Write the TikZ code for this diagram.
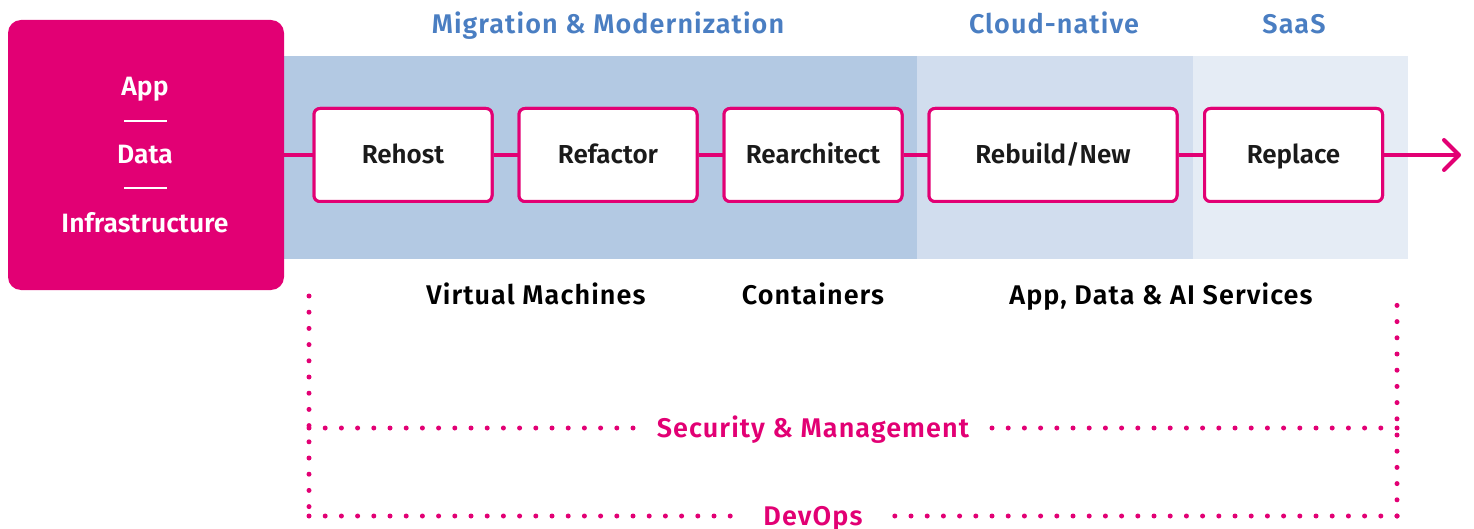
\documentclass[tikz,border=0pt]{standalone}
\usepackage{fontspec}
\setmainfont{Fira Sans}[BoldFont={Fira Sans SemiBold}]
\usetikzlibrary{arrows.meta}
\definecolor{mag}{HTML}{E20074}
\definecolor{bandA}{HTML}{B3C9E3}
\definecolor{bandB}{HTML}{D1DDEE}
\definecolor{bandC}{HTML}{E5ECF5}
\definecolor{bluetxt}{HTML}{4A7EC2}
\definecolor{boxtxt}{HTML}{1A1A1A}
\begin{document}
\begin{tikzpicture}[x=1pt,y=-1pt,
  stepbox/.style={draw=mag,line width=3pt,fill=white,rounded corners=6pt,
    minimum width=178pt,minimum height=93pt,inner sep=0pt,text=boxtxt,
    text height=18pt,text depth=0pt,
    font=\fontsize{26}{31}\selectfont\bfseries},
  conn/.style={draw=mag,line width=4pt},
  lbl/.style={inner ysep=0pt,text height=18.5pt,text depth=0pt,
    font=\fontsize{27}{32}\selectfont\bfseries\addfontfeature{LetterSpace=4}},
  toplabel/.style={lbl,text=bluetxt},
  botlabel/.style={lbl,text=black},
  maglabel/.style={lbl,text=mag,inner xsep=18pt},
  dots/.style={draw=mag,line width=5pt,line cap=round,dash pattern=on 0pt off 16.2pt},
  whitetxt/.style={text=white,inner ysep=0pt,text height=18.5pt,text depth=0pt,
    font=\fontsize{26.5}{31}\selectfont\bfseries}
]
\useasboundingbox (0,0) rectangle (1474,529);
% bands
\fill[bandA] (284,56) rectangle (917,259);
\fill[bandB] (917,56) rectangle (1193,259);
\fill[bandC] (1193,56) rectangle (1408,259);
% source box
\node[fill=mag,rounded corners=13pt,minimum width=276pt,minimum height=270pt,inner sep=0pt] (src) at (146,155) {};
\node[whitetxt] (app) at (145,86) {App};
\node[whitetxt] (data) at (145,154) {Data};
\node[whitetxt] (infra) at (145,223) {Infrastructure};
\draw[white,line width=2.5pt] (124,121) -- (167,121);
\draw[white,line width=2.5pt] (124,188) -- (167,188);
% steps
\node[stepbox] (rehost) at (403,155) {Rehost};
\node[stepbox] (refactor) at (608,155) {Refactor};
\node[stepbox] (rearch) at (813,155) {Rearchitect};
\node[stepbox,minimum width=248pt] (rebuild) at (1053,155) {Rebuild/New};
\node[stepbox] (replace) at (1293.5,155) {Replace};
\coordinate (end) at (1461,155);
\draw[conn] (src.east |- rehost.west) -- (rehost.west);
\draw[conn] (rehost) -- (refactor);
\draw[conn] (refactor) -- (rearch);
\draw[conn] (rearch) -- (rebuild);
\draw[conn] (rebuild) -- (replace);
\draw[conn,-{Straight Barb[length=15pt,width=30pt,round]}] (replace.east) -- (end);
% redraw boxes on top of connectors
\node[stepbox] at (403,155) {Rehost};
\node[stepbox] at (608,155) {Refactor};
\node[stepbox] at (813,155) {Rearchitect};
\node[stepbox,minimum width=248pt] at (1053,155) {Rebuild/New};
\node[stepbox] at (1293.5,155) {Replace};
% labels
\node[toplabel] (mm) at (608,24.5) {Migration \& Modernization};
\node[toplabel] (cn) at (1054,24.5) {Cloud-native};
\node[toplabel] (saas) at (1294,24.5) {SaaS};
\node[botlabel] (vm) at (536,295) {Virtual Machines};
\node[botlabel] (cont) at (813,295) {Containers};
\node[botlabel] (svc) at (1161,295) {App, Data \& AI Services};
% dotted frame
\coordinate (tl) at (309,296);
\coordinate (ml) at (309,428);
\coordinate (bl) at (309,516);
\coordinate (tr) at (1397,298);
\coordinate (mr) at (1397,428);
\coordinate (br) at (1397,516);
\node[maglabel] (sec) at (813,428) {Security \& Management};
\node[maglabel] (dev) at (813,516) {DevOps};
\draw[dots] (tl) -- (bl);
\draw[dots] (br) -- (tr);
\draw[dots] (ml) -- (sec.west);
\draw[dots] (mr) -- (sec.east);
\draw[dots] (bl) -- (dev.west);
\draw[dots] (br) -- (dev.east);
\end{tikzpicture}
\end{document}
